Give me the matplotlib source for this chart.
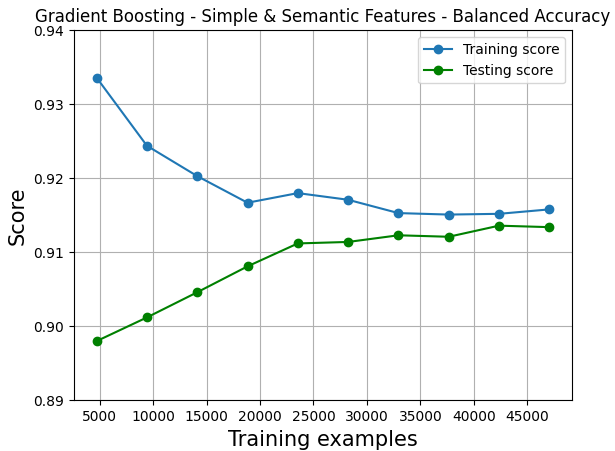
import matplotlib
matplotlib.use('Agg')
import matplotlib.pyplot as plt
import numpy as np

# --- Data ---
train_sizes = [4707, 9414, 14121, 18828, 23535, 28242, 32949, 37656, 42363, 47070]
train_scores = [0.9336, 0.9244, 0.9203, 0.9167, 0.9180, 0.9171, 0.9153, 0.9151, 0.9152, 0.9158]
test_scores = [0.8980, 0.9012, 0.9046, 0.9081, 0.9112, 0.9114, 0.9123, 0.9121, 0.9136, 0.9134]

y_ticks = [0.89, 0.90, 0.91, 0.92, 0.93, 0.94]

# --- Plot ---
fig = plt.figure(figsize=(6.15, 4.51), dpi=100)
ax = fig.add_axes([0.1203, 0.1124, 0.8097, 0.8204])

ax.plot(train_sizes, train_scores, 'o-', color='#1f77b4', label='Training score')
ax.plot(train_sizes, test_scores, 'o-', color='green', label='Testing score')

ax.set_ylim(0.89, 0.94)
ax.set_yticks(y_ticks)
ax.set_xticks(np.arange(5000, 50000, 5000))
ax.grid(True)

ax.set_title('Gradient Boosting - Simple & Semantic Features - Balanced Accuracy', fontsize=12)
ax.set_xlabel('Training examples', fontsize=15)
ax.set_ylabel('Score', fontsize=15)
ax.legend(loc='best')

plt.savefig('out.png', dpi=100)
